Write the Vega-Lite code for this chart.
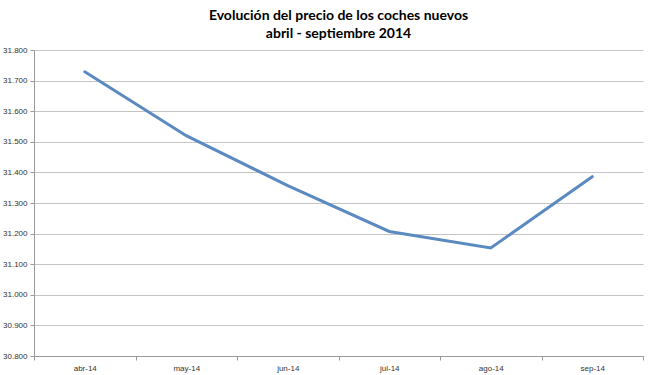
{
  "$schema": "https://vega.github.io/schema/vega-lite/v6.json",
  "width": 609,
  "height": 306,
  "autosize": {"type": "none"},
  "padding": {"left": 34, "top": 50, "right": 7, "bottom": 19},
  "background": "white",
  "title": {
    "text": ["Evolución del precio de los coches nuevos", "abril - septiembre 2014"],
    "font": "Lato",
    "fontSize": 14,
    "fontWeight": "bold",
    "lineHeight": 18,
    "color": "#000000",
    "anchor": "middle",
    "frame": "group",
    "offset": 5
  },
  "config": {
    "view": {"stroke": null},
    "font": "Liberation Sans"
  },
  "data": {
    "values": [
      {"mes": "abr-14", "precio": 31729},
      {"mes": "may-14", "precio": 31520},
      {"mes": "jun-14", "precio": 31357},
      {"mes": "jul-14", "precio": 31207},
      {"mes": "ago-14", "precio": 31153},
      {"mes": "sep-14", "precio": 31386}
    ]
  },
  "mark": {"type": "line", "color": "#5a8ac0", "strokeWidth": 3, "strokeCap": "round"},
  "encoding": {
    "x": {
      "field": "mes",
      "type": "ordinal",
      "sort": null,
      "scale": {"paddingInner": 0, "paddingOuter": 0},
      "axis": {
        "title": null,
        "labelAngle": 0,
        "labelFontSize": 8,
        "labelColor": "#333333",
        "labelPadding": 4,
        "domainColor": "#9a9a9a",
        "tickColor": "#9a9a9a",
        "tickBand": "extent",
        "tickSize": 4,
        "grid": false
      }
    },
    "y": {
      "field": "precio",
      "type": "quantitative",
      "scale": {"domain": [30800, 31800], "zero": false, "nice": false},
      "axis": {
        "title": null,
        "values": [30800, 30900, 31000, 31100, 31200, 31300, 31400, 31500, 31600, 31700, 31800],
        "labelExpr": "replace(format(datum.value, ',.0f'), ',', '.')",
        "labelFontSize": 8,
        "labelColor": "#333333",
        "labelPadding": 3,
        "tickSize": 4,
        "tickColor": "#9a9a9a",
        "domainColor": "#9a9a9a",
        "gridColor": "#c4c4c4",
        "gridWidth": 1
      }
    }
  }
}
